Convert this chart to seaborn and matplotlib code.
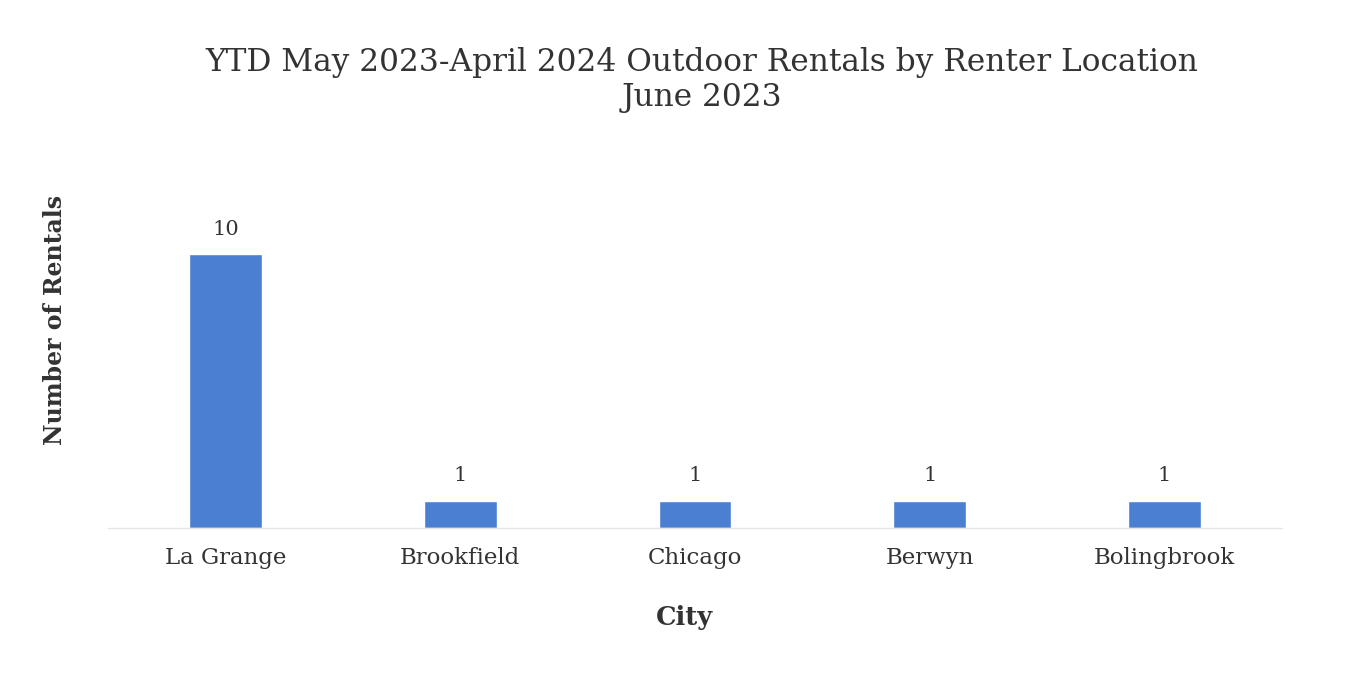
import matplotlib
matplotlib.use("Agg")
import matplotlib.pyplot as plt
import seaborn as sns
import pandas as pd

cities = ["La Grange", "Brookfield", "Chicago", "Berwyn", "Bolingbrook"]
rentals = [10, 1, 1, 1, 1]

title = "YTD May 2023-April 2024 Outdoor Rentals by Renter Location\nJune 2023"
xlabel = "City"
ylabel = "Number of Rentals"

sns.set_style("white")
plt.rcParams['font.family'] = ['DejaVu Serif']

df = pd.DataFrame({"City": cities, "Rentals": rentals})

fig = plt.figure(figsize=(13.47, 6.84), dpi=100)
ax = fig.add_axes([108/1347, 1-528/684, (1282-108)/1347, 329/684])
sns.barplot(data=df, x="City", y="Rentals", color="#4a7fd1", width=0.31,
            saturation=1, ax=ax)
ax.set_ylim(0, 12)
ax.set_yticks([])
for s in ["top", "right", "left"]:
    ax.spines[s].set_visible(False)
ax.spines["bottom"].set_color("#e6e6e6")
ax.spines["bottom"].set_linewidth(1)
ax.tick_params(axis="x", length=0, labelsize=16.5, colors="#333333", pad=14)
for c in ax.containers:
    ax.bar_label(c, padding=11, fontsize=15, color="#333333")
ax.set_xlabel("")
ax.set_ylabel("")
fig.text(55/1347, 1-320/684, ylabel, rotation=90, ha="center", va="center",
         fontsize=17, fontweight="bold", color="#333333")
fig.text(684/1347, 1-618/684, xlabel, ha="center", va="center",
         fontsize=18.5, fontweight="bold", color="#333333")
fig.text(702/1347, 1-80/684, title, ha="center", va="center",
         fontsize=22.5, color="#333333", linespacing=1.15)

fig.savefig("out.png", dpi=100, facecolor="white")
